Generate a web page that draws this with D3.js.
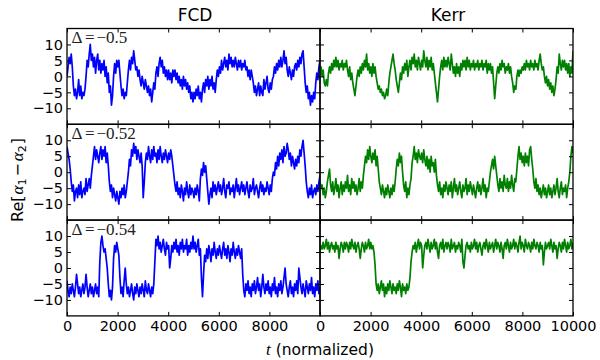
<!DOCTYPE html>
<html>
<head>
<meta charset="utf-8">
<script src="https://cdn.jsdelivr.net/npm/d3@7"></script>
<style>
  body { margin: 0; background: #fff; }
  svg { display: block; }
  text { font-family: "DejaVu Sans", sans-serif; }
</style>
</head>
<body>
<svg width="600" height="360"></svg>
<script>
// values, one sample every T_MAX/(n-1), one line per 1000 t
const T_MAX = 10000;
const columns = ["FCD", "Kerr"];
const deltas = ["\u2212" + "0.5", "\u2212" + "0.52", "\u2212" + "0.54"];
const xTicksLeft = [0, 2000, 4000, 6000, 8000];
const xTicksRight = [0, 2000, 4000, 6000, 8000, 10000];
const yTicks = [-10, -5, 0, 5, 10];

const fcd50 = [
  0,3,6,4,7,3,-3,-6,-4,-7,-5,-1,-6,-3,-7,-5,-6,-4,0,5,3,7,10,5,
  7,3,6,1,5,7,2,5,1,4,2,5,0,3,-2,1,-5,-3,-9,-6,0,4,1,5,
  3,5,1,-3,-6,-4,-7,-5,-6,-2,2,5,2,6,4,8,5,2,3,0,2,-1,-3,0,
  -2,-4,-1,-3,-5,-3,-6,-4,-8,-5,-2,-4,1,3,0,4,6,3,5,1,3,0,2,-1,
  2,-1,1,-2,2,0,2,-1,1,-2,0,-3,-1,-4,0,-3,-1,-4,-2,-5,-3,-7,-5,-8,
  -5,-7,-4,-6,-3,-7,-5,-8,-4,-2,-5,-1,-3,0,-4,-1,-3,0,-4,-2,-5,-1,2,0,
  3,1,5,2,4,6,3,5,2,7,4,6,3,5,3,6,4,2,5,3,5,2,4,3,
  5,2,3,0,2,-1,2,0,-2,-5,-3,-6,-4,-2,-6,-3,-5,-6,-1,-4,-2,0,-4,-5,
  -2,-4,-1,0,3,1,4,2,5,3,6,3,5,8,4,6,2,0,3,1,-1,2,0,3,
  4,2,5,3,6,4,7,8,3,-2,-5,-3,-7,-5,-9,-6,-8,-5,-7,-2,1,-1,3,5];

const kerr50 = [
  1,3,0,2,-2,-3,-1,-3,1,3,1,4,2,5,3,6,3,5,2,4,3,5,2,4,
  3,5,2,0,3,-1,1,-2,-4,-6,-3,0,2,0,3,1,4,2,5,3,7,2,4,1,
  3,0,4,1,3,0,-2,-4,-3,-5,-4,-6,-5,-7,-6,-4,-6,-2,1,3,5,7,4,2,
  -1,-3,-5,-2,1,-1,3,1,4,2,5,0,3,5,2,6,4,7,3,5,2,6,4,2,
  5,3,8,5,3,6,2,5,3,6,2,4,1,-2,-5,-8,-4,0,3,5,2,6,3,5,
  3,6,4,2,7,4,1,3,0,4,1,3,0,4,2,5,3,5,2,6,3,5,2,4,
  3,5,2,4,3,5,2,4,3,5,2,4,3,5,1,4,2,4,1,3,-2,-7,-3,1,
  3,1,4,2,5,3,4,1,3,2,4,1,3,0,-2,-5,-3,-4,0,2,0,2,1,3,
  2,4,2,5,3,4,2,5,3,4,2,5,3,4,2,5,7,4,2,3,0,-2,0,-3,
  -1,-4,-2,-5,-3,-6,-4,-1,3,1,7,4,2,5,3,5,2,4,1,4,0,3,1,8];

const fcd52 = [
  8,6,4,1,-3,-6,-4,-9,-6,-5,-8,-4,-7,-3,-8,-6,-5,-7,-2,-6,-4,-2,-5,-1,
  2,5,8,4,7,5,3,6,8,4,7,5,8,3,6,2,-3,-6,-4,-8,-5,-7,-9,-6,
  -8,-10,-6,-8,-5,-7,-4,-8,-6,-3,0,4,2,7,5,9,6,8,4,7,5,3,6,2,
  -8,-3,3,6,4,8,5,3,7,4,8,5,6,3,7,4,8,5,3,6,4,7,5,3,
  6,4,7,5,2,-1,-4,-6,-3,-7,-5,-8,-4,-6,-9,-5,-7,-3,-6,-8,-4,-7,-5,-6,
  -8,-5,-7,-4,-6,-9,-2,1,-1,3,0,2,-2,-6,-10,-7,-5,-8,-3,-6,-4,-7,-5,-3,
  -6,-4,-7,-5,-2,-6,-8,-4,-5,-3,-7,-5,-6,-4,-8,-5,-2,-6,-4,-7,-5,-3,-6,-4,
  -7,-5,-3,-6,-8,-4,-6,-5,-2,-7,-5,-4,-6,-8,-5,-3,-6,-4,-7,-5,-6,-3,-5,-7,
  -4,-6,-2,0,-1,3,1,5,2,6,4,7,3,8,5,6,9,7,4,6,2,5,3,1,
  4,2,5,3,7,5,8,10,6,2,-3,-6,-8,-5,-7,-4,-8,-6,-5,-7,-4,-6,-3,-1];

const kerr52 = [
  -3,-5,-4,-7,-5,-8,-6,-3,-1,1,-4,-6,-3,-7,-5,-2,-6,-4,-8,-5,-3,-7,-4,-6,
  -3,-5,-1,-6,-4,-7,-2,-5,-3,-6,-4,-7,-5,-2,-6,-3,-5,-1,2,5,3,7,4,8,
  5,3,6,4,7,2,5,1,-3,-5,-7,-4,-6,-8,-5,-7,-4,-6,-8,-5,-7,-4,-6,-3,
  1,4,2,6,3,5,0,-4,-6,-3,-8,-5,-7,-4,-2,3,5,8,4,6,3,7,5,4,
  6,3,7,4,2,5,1,4,0,5,2,3,0,4,-1,-4,-6,-3,-7,-5,-8,-4,-6,-3,
  -5,-7,-4,-6,-3,-8,-5,-2,-6,-4,-7,-5,-3,-6,-8,-4,-6,-5,-2,-7,-4,-6,-3,-5,
  -7,-4,-6,-8,-5,-3,-6,-4,-7,-5,-2,-6,-4,-8,-5,-6,-3,0,2,4,1,5,2,-1,
  -4,-6,-2,-5,-3,-6,-1,-4,-5,-2,-6,-3,-5,-1,-4,-6,-2,-3,1,5,8,4,6,3,
  5,2,6,3,5,2,7,8,4,1,-3,-5,-2,-6,-4,-7,-5,-8,-6,-4,-7,-5,-8,-6,
  -4,-7,-5,-8,-6,-4,-7,-5,-2,-6,-8,-5,-3,-7,-5,-6,-4,-8,-5,-3,0,5,8,6];

const fcd54 = [
  -4,-7,-9,-6,-8,-5,-7,-9,-6,-2,-5,-8,-6,-9,-7,-5,-8,-6,-2,-6,-9,-7,-5,-8,
  -6,-9,-7,-5,-8,-6,-9,2,8,10,7,5,6,3,0,-5,-9,-7,-10,-6,3,7,5,8,
  6,4,-3,-8,-6,-9,-4,0,-5,-8,-6,-9,-7,-5,-8,-10,-6,-8,-5,-7,-9,-6,-8,-5,
  -7,-9,-4,-7,-8,-5,-7,-9,-6,-8,-5,2,9,7,10,6,8,5,7,9,6,4,8,6,
  7,0,3,7,5,8,6,9,5,7,4,8,6,9,5,7,6,9,4,7,5,8,6,10,
  6,8,5,7,9,4,6,-3,-9,-2,4,2,6,3,7,5,2,6,4,8,5,3,6,4,
  7,5,3,6,8,4,6,3,7,5,2,6,4,8,5,3,6,4,7,5,3,6,-2,-7,
  -9,-5,-7,-4,-8,-6,-9,-5,-7,-4,-8,-6,-3,-7,-5,-9,-6,-2,-6,-8,-5,-7,-4,-8,
  -6,-9,-5,-7,-3,-8,-6,-9,-5,-7,-4,-8,-6,-3,0,-5,-7,-9,-6,-4,-8,-6,-9,-5,
  -7,-4,-8,0,-3,-6,-8,-5,-7,-9,-4,-6,-8,-5,-7,-3,-8,-6,-9,-5,-7,-4,-8,-6];

const kerr54 = [
  5,7,6,8,6,7,9,6,8,5,7,8,6,7,5,8,6,7,3,6,8,7,5,8,
  6,8,7,5,8,6,9,7,6,8,5,7,8,6,3,6,8,7,5,8,6,7,9,6,
  8,6,7,5,1,-5,-7,-5,-8,-6,-4,-7,-5,-9,-6,-8,-5,-7,-4,-6,-8,-5,-7,-6,
  -8,-5,-7,-4,-6,-9,-5,-7,-6,-8,-5,-7,-6,-3,2,5,7,6,8,5,7,9,6,8,
  7,0,4,7,8,6,9,7,5,8,6,7,9,6,8,5,3,7,8,6,9,5,7,8,
  6,8,7,5,9,6,7,8,5,7,6,8,7,5,9,2,0,4,7,8,6,7,5,8,
  6,7,9,6,8,5,7,8,6,4,7,8,6,9,7,5,8,6,7,8,5,7,9,6,
  8,7,5,8,6,3,7,8,6,9,7,5,8,6,7,9,6,8,7,5,8,10,6,8,
  7,5,9,7,6,8,7,5,8,6,9,7,6,8,7,5,8,6,7,1,5,8,6,7,
  8,6,9,7,5,8,6,7,3,6,8,7,5,8,6,9,7,5,8,6,7,9,6,8];

const series = [[fcd50, kerr50], [fcd52, kerr52], [fcd54, kerr54]];
const colors = ["#0000ff", "#008000"];

let svg = d3.select("svg");

let plotLeft = 67, panelW = 253, plotTop = 28.5, panelH = 95.8;

let y = d3.scaleLinear().domain([-15, 15]);
let fmt = d3.format("d");

series.forEach(function (row, r) {
  let y0 = plotTop + r * panelH;
  y.range([y0 + panelH, y0]);
  let yr = y.copy();

  row.forEach(function (vals, c) {
    let x0 = plotLeft + c * panelW;
    let x = d3.scaleLinear().domain([0, T_MAX]).range([x0, x0 + panelW]);
    let step = T_MAX / (vals.length - 1);

    let g = svg.append("g");
    let clipId = "clip" + r + c;
    g.append("clipPath").attr("id", clipId)
      .append("rect")
      .attr("x", x0).attr("y", y0)
      .attr("width", panelW).attr("height", panelH);

    let line = d3.line()
      .x(function (d, i) { return x(i * step); })
      .y(function (d) { return yr(d); });

    g.append("path")
      .datum(vals)
      .attr("clip-path", "url(#" + clipId + ")")
      .attr("fill", "none")
      .attr("stroke", colors[c])
      .attr("stroke-width", 1.7)
      .attr("stroke-linejoin", "round")
      .attr("d", line);

    let ticksX = c == 0 ? xTicksLeft : xTicksRight;

    // inward ticks on all four sides
    let axL = g.append("g").attr("transform", "translate(" + x0 + ",0)")
      .call(d3.axisLeft(yr).tickValues(yTicks).tickSize(-4).tickPadding(4).tickFormat(fmt));
    let axR = g.append("g").attr("transform", "translate(" + (x0 + panelW) + ",0)")
      .call(d3.axisRight(yr).tickValues(yTicks).tickSize(-4).tickFormat(""));
    let axT = g.append("g").attr("transform", "translate(0," + y0 + ")")
      .call(d3.axisTop(x).tickValues(ticksX).tickSize(-4).tickFormat(""));
    let axB = g.append("g").attr("transform", "translate(0," + (y0 + panelH) + ")")
      .call(d3.axisBottom(x).tickValues(ticksX).tickSize(-4).tickPadding(5).tickFormat(fmt));

    if (c == 1) axL.selectAll("text").remove();
    if (r < 2) axB.selectAll("text").remove();

    [axL, axR, axT, axB].forEach(function (a) {
      a.select(".domain").remove();
      a.selectAll("line").attr("stroke", "#000").attr("stroke-width", 1);
      a.selectAll("text")
        .attr("fill", "#000")
        .style("font-family", "DejaVu Sans")
        .style("font-size", "14.5px");
    });

    g.append("rect")
      .attr("x", x0).attr("y", y0)
      .attr("width", panelW).attr("height", panelH)
      .attr("fill", "none").attr("stroke", "#000").attr("stroke-width", 1.3);

    if (c == 0) {
      let lab = g.append("text")
        .attr("x", x0 + 4.5).attr("y", y0 + 14.5)
        .style("font-family", "Liberation Serif, serif")
        .style("font-size", "17px")
        .attr("fill", "#222");
      lab.append("tspan").text("\u0394");
      lab.append("tspan").attr("dx", 2.5).text("=");
      lab.append("tspan").attr("dx", 2).text(deltas[r]);
    }

    if (r == 0) {
      svg.append("text")
        .attr("x", x0 + panelW / 2 + 1.5).attr("y", 20.5)
        .attr("text-anchor", "middle")
        .style("font-size", "17px")
        .text(columns[c]);
    }
  });
});

// axis labels
let xl = svg.append("text")
  .attr("x", plotLeft + panelW).attr("y", 355)
  .attr("text-anchor", "middle")
  .style("font-size", "15.5px");
xl.append("tspan").style("font-family", "Liberation Serif, serif").style("font-style", "italic").style("font-size", "17px").text("t");
xl.append("tspan").text(" (normalized)");

let yl = svg.append("text")
  .attr("transform", "translate(23," + 180 + ") rotate(-90)")
  .attr("text-anchor", "middle")
  .style("font-size", "16px");
yl.append("tspan").text("Re[");
yl.append("tspan").attr("dx", 1).style("font-family", "Liberation Serif, serif").style("font-style", "italic").style("font-size", "17px").text("\u03b1");
yl.append("tspan").attr("dy", 3).style("font-size", "11px").text("1");
yl.append("tspan").attr("dy", -3).attr("dx", 2).text("\u2212");
yl.append("tspan").attr("dx", 2).style("font-family", "Liberation Serif, serif").style("font-style", "italic").style("font-size", "17px").text("\u03b1");
yl.append("tspan").attr("dy", 3).style("font-size", "11px").text("2");
yl.append("tspan").attr("dy", -3).attr("dx", 1).text("]");
</script>
</body>
</html>
